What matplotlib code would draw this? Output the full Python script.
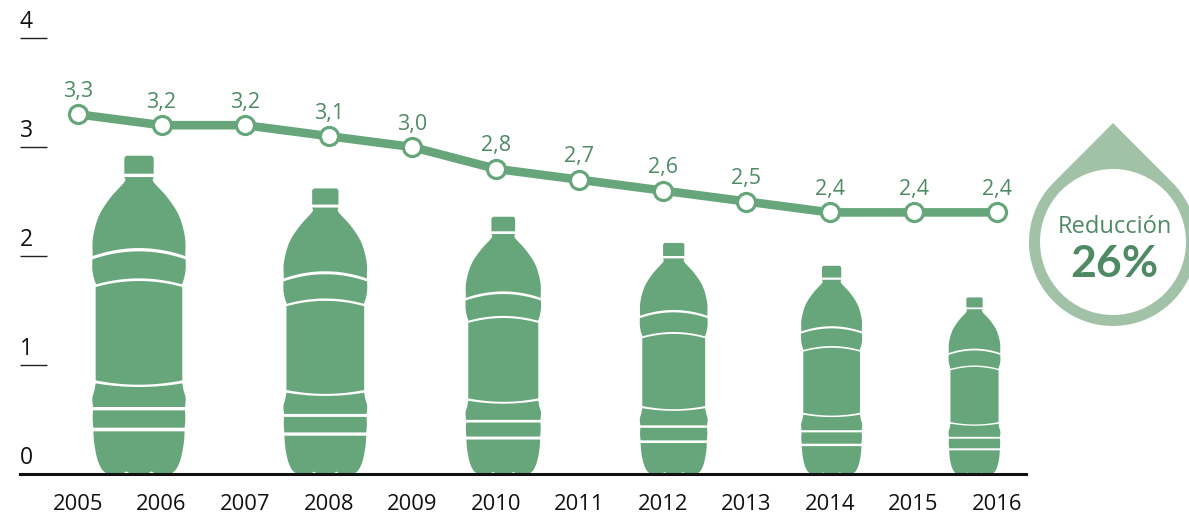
import numpy as np
import matplotlib
matplotlib.use("Agg")
import matplotlib.pyplot as plt
from matplotlib.patches import Circle, Polygon
from matplotlib.transforms import Affine2D

plt.rcParams["font.family"] = ["Open Sans", "DejaVu Sans"]

years = [2005, 2006, 2007, 2008, 2009, 2010, 2011, 2012, 2013, 2014, 2015, 2016]
values = [3.3, 3.2, 3.2, 3.1, 3.0, 2.8, 2.7, 2.6, 2.5, 2.4, 2.4, 2.4]
value_labels = ["3,3", "3,2", "3,2", "3,1", "3,0", "2,8", "2,7", "2,6", "2,5", "2,4", "2,4", "2,4"]
y_ticks = [0, 1, 2, 3, 4]

# bottle sizes in axis units
bottle_years = [2005.73, 2007.96, 2010.09, 2012.13, 2014.02, 2015.73]
bottle_heights = [2.92, 2.62, 2.36, 2.12, 1.91, 1.62]

GREEN = "#66a67a"
DARK = "#4f8a65"
PALE = "#a1c2a6"

W, H = 1189, 517
PX_X = 83.55  # pixels per year
PX_Y = 109.0  # pixels per unit


def smooth(pts, n=10):
    # catmull-rom through the profile points
    pts = np.array(pts, dtype=float)
    p = np.vstack([2 * pts[0] - pts[1], pts, 2 * pts[-1] - pts[-2]])
    out = []
    for i in range(1, len(p) - 2):
        for t in np.linspace(0, 1, n, endpoint=False):
            out.append(0.5 * (2 * p[i] + (p[i + 1] - p[i - 1]) * t
                              + (2 * p[i - 1] - 5 * p[i] + 4 * p[i + 1] - p[i + 2]) * t ** 2
                              + (3 * p[i] - p[i - 1] - 3 * p[i + 1] + p[i + 2]) * t ** 3))
    out.append(pts[-1])
    return np.array(out)


def arc(hw, y_edge, y_mid, n=25):
    x = np.linspace(-hw, hw, n)
    return np.column_stack([x, y_mid + (y_edge - y_mid) * (x / hw) ** 2])


def piece(profile, top_mid, bottom_mid):
    # profile is the right side, top to bottom, as (half width, y)
    side = smooth(profile)
    top = arc(profile[0][0], profile[0][1], top_mid)
    bot = arc(profile[-1][0], profile[-1][1], bottom_mid)[::-1]
    left = side[::-1] * [-1, 1]
    return np.vstack([top, side, bot, left])


def bottom_piece():
    side = smooth([(137, 872), (134, 910), (125, 955), (112, 985), (96, 1000)])
    feet = [(50, 1000), (38, 992), (24, 1000), (-24, 1000), (-38, 992), (-50, 1000)]
    left = side[::-1] * [-1, 1]
    return np.vstack([side, feet, left])


def cap_piece():
    return np.array([(-38, 45), (38, 45), (44, 51), (44, 99), (-44, 99), (-44, 51)], dtype=float)


bottle_parts = [
    cap_piece(),
    piece([(44, 109), (44, 124), (85, 170), (120, 225), (138, 290), (139, 346)], 109, 322),
    piece([(140, 356), (140, 385), (136, 410), (129, 431)], 332, 413),
    piece([(130, 439), (130, 719)], 421, 732),
    piece([(130, 728), (134, 750), (140, 772), (138, 799)], 739, 799),
    piece([(138, 809), (139, 835), (137, 861)], 809, 861),
    bottom_piece(),
]

fig = plt.figure(figsize=(W / 100, H / 100), dpi=100)
ax = fig.add_axes([20 / W, 1 - 474 / H, (1026 - 20) / W, (474 - 38) / H])
ax.set_xlim(2005 - 58 / PX_X, 2005 + 948 / PX_X)
ax.set_ylim(0, 4)

for by, bh in zip(bottle_years, bottle_heights):
    sy = bh / 955.0
    sx = sy * PX_Y / PX_X
    tr = Affine2D().translate(0, -1000).scale(sx, -sy).translate(by, 0) + ax.transData
    for part in bottle_parts:
        ax.add_patch(Polygon(part, closed=True, fc=GREEN, ec="none", transform=tr, zorder=2))

ax.plot(years, values, color=GREEN, lw=6.2, marker="o", ms=13, mfc="white", mec=GREEN,
        mew=2.3, zorder=3, solid_capstyle="butt", clip_on=False)

for yr, v, lab in zip(years, values, value_labels):
    ax.annotate(lab, (yr, v), xytext=(0, 16.5), textcoords="offset points", ha="center",
                va="center", color=DARK, fontsize=15.5)

ax.set_yticks(y_ticks)
ax.set_xticks(years)
ax.tick_params(axis="y", direction="in", length=19.4, width=1.0, color="#222222", labelleft=False)
ax.tick_params(axis="x", length=0, pad=14.5, labelsize=15.8, labelcolor="#111111")
for s in ["top", "left", "right"]:
    ax.spines[s].set_visible(False)
ax.spines["bottom"].set_linewidth(2.2)
ax.spines["bottom"].set_color("#111111")
ax.patch.set_alpha(0)

for t in y_ticks:
    ax.annotate(str(t), (0, t), xycoords=("axes fraction", "data"), xytext=(4.6, 11.8),
                textcoords="offset points", ha="center", va="center", fontsize=16.5,
                color="#111111", annotation_clip=False)

# drop badge, drawn in pixel space
over = fig.add_axes([0, 0, 1, 1], zorder=5)
over.set_xlim(0, W)
over.set_ylim(H, 0)
over.axis("off")
cx, cy, r_out, r_in, tip = 1113, 242, 84, 73, 123
d = cy - tip
ang = np.arccos(r_out / d)
theta = np.linspace(-np.pi / 2 + ang, 1.5 * np.pi - ang, 160)
outline = np.column_stack([cx + r_out * np.cos(theta), cy + r_out * np.sin(theta)])
outline = np.vstack([[cx, tip], outline])
over.add_patch(Polygon(outline, closed=True, fc=PALE, ec="none"))
over.add_patch(Circle((cx, cy), r_in, fc="white", ec="none"))
over.text(1115, 227, "Reducción", ha="center", va="center", color=DARK, fontsize=17)
over.text(1114, 264, "26%", ha="center", va="center", color=DARK, fontsize=32, fontweight="bold",
          family=["Lato", "DejaVu Sans"])

fig.savefig("out.png", dpi=100)
